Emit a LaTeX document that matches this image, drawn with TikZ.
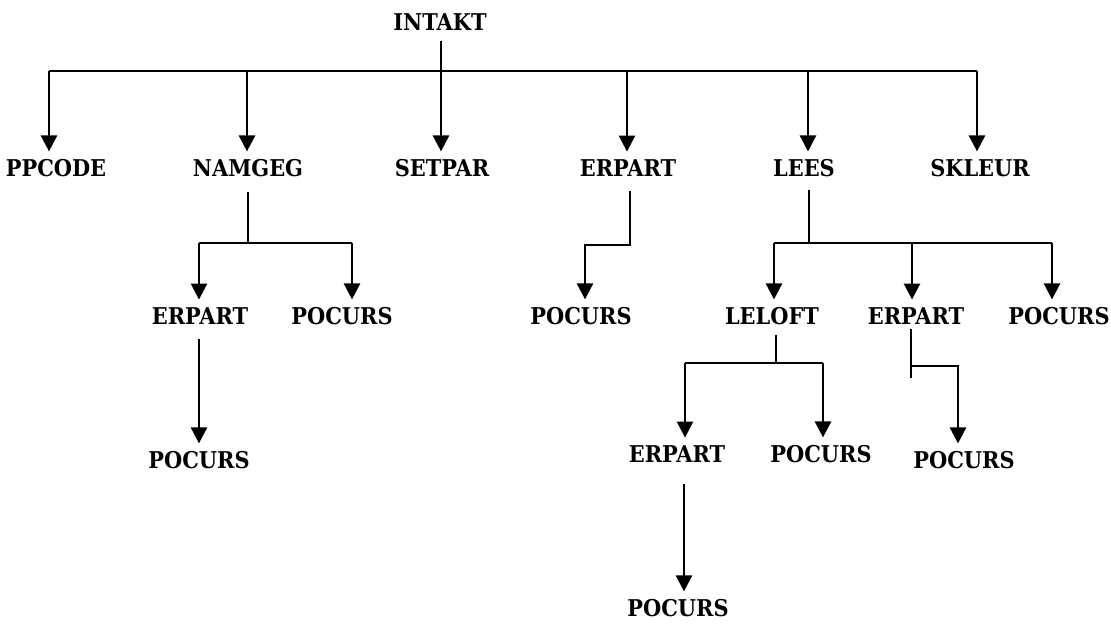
\documentclass[tikz,border=0pt]{standalone}
\usepackage{fontspec}
\usepackage{graphicx}
\newfontfamily\printfont{DejaVu Serif}
\usetikzlibrary{arrows.meta,calc}
% printer-style module name, slightly stretched upright
\newcommand\lbl[1]{\scalebox{0.95}[1.05]{#1}}

\begin{document}
\begin{tikzpicture}[x=1pt,y=-1pt,
  proc/.style={font=\printfont\bfseries\fontsize{22}{22}\selectfont,
    inner sep=0pt, text depth=0pt, outer ysep=8pt},
  link/.style={line width=2.6pt, line join=miter},
  arr/.style={link, -{Triangle[width=16pt,length=16pt]}}]
\useasboundingbox (0,0) rectangle (1111,624);

% modules
\node[proc] (intakt) at (440,22) {\lbl{INTAKT}};

\node[proc] (ppcode) at (56,168)  {\lbl{PPCODE}};
\node[proc] (namgeg) at (248,168) {\lbl{NAMGEG}};
\node[proc] (setpar) at (442,168) {\lbl{SETPAR}};
\node[proc] (erpa)   at (628,168) {\lbl{ERPART}};
\node[proc] (lees)   at (804,168) {\lbl{LEES}};
\node[proc] (skleur) at (980,168) {\lbl{SKLEUR}};

\node[proc] (erpb)   at (200,316)  {\lbl{ERPART}};
\node[proc] (poca)   at (342,316)  {\lbl{POCURS}};
\node[proc] (pocb)   at (581,316)  {\lbl{POCURS}};
\node[proc] (leloft) at (772,316)  {\lbl{LELOFT}};
\node[proc] (erpc)   at (916,316)  {\lbl{ERPART}};
\node[proc] (pocc)   at (1059,316) {\lbl{POCURS}};

\node[proc] (pocd)   at (199,460) {\lbl{POCURS}};
\node[proc] (erpd)   at (677,454) {\lbl{ERPART}};
\node[proc] (poce)   at (821,454) {\lbl{POCURS}};
\node[proc] (pocf)   at (964,460) {\lbl{POCURS}};

\node[proc] (pocg)   at (678,608) {\lbl{POCURS}};

% junction points on the branch bars
\coordinate (t0) at (49,71);
\coordinate (t1) at (247,71);
\coordinate (tm) at (441,71);
\coordinate (t3) at (627,71);
\coordinate (t4) at (808,71);
\coordinate (t5) at (977,71);

\coordinate (n0) at (248,243);
\coordinate (n1) at (199,243);
\coordinate (n2) at (352,243);

\coordinate (e0) at (630,245);
\coordinate (e1) at (585,245);

\coordinate (l0) at (809,243);
\coordinate (l1) at (774,243);
\coordinate (l2) at (912,243);
\coordinate (l3) at (1052,243);

\coordinate (f0) at (776,363);
\coordinate (f1) at (685,363);
\coordinate (f2) at (823,363);

\coordinate (g0) at (911,366);
\coordinate (g1) at (958,366);

\coordinate (a0) at (199,400);
\coordinate (d0) at (684,530);

% INTAKT and its six callees
\draw[arr] ($(tm |- intakt.south)+(0,3)$) -- (tm |- setpar.north);
\draw[link] (t0) -- (t5);
\draw[arr] (t0) -- (t0 |- ppcode.north);
\draw[arr] (t1) -- (t1 |- namgeg.north);
\draw[arr] (t3) -- (t3 |- erpa.north);
\draw[arr] (t4) -- (t4 |- lees.north);
\draw[arr] (t5) -- (t5 |- skleur.north);

% NAMGEG
\draw[link] ($(n0 |- namgeg.south)+(0,7)$) -- (n0);
\draw[link] (n1) -- (n2);
\draw[arr] (n1) -- (n1 |- erpb.north);
\draw[arr] (n2) -- (n2 |- poca.north);
\draw[arr] ($(a0 |- erpb.south)+(0,7)$) -- (a0 |- pocd.north);

% ERPART
\draw[arr] ($(e0 |- erpa.south)+(0,7)$) -- (e0) -- (e1) -- (e1 |- pocb.north);

% LEES
\draw[link] ($(l0 |- lees.south)+(0,5)$) -- (l0);
\draw[link] (l1) -- (l3);
\draw[arr] (l1) -- (l1 |- leloft.north);
\draw[arr] (l2) -- (l2 |- erpc.north);
\draw[arr] (l3) -- (l3 |- pocc.north);

% LELOFT
\draw[link] ($(f0 |- leloft.south)+(0,2)$) -- (f0);
\draw[link] (f1) -- (f2);
\draw[arr] (f1) -- (f1 |- erpd.north);
\draw[arr] (f2) -- (f2 |- poce.north);
\draw[arr] ($(d0 |- erpd.south)+(0,14)$) -- (d0 |- pocg.north);

% ERPART under LEES
\draw[link] ($(g0 |- erpc.south)+(0,-3)$) -- ($(g0)+(0,12)$);
\draw[arr] (g0) -- (g1) -- (g1 |- pocf.north);
\end{tikzpicture}
\end{document}
